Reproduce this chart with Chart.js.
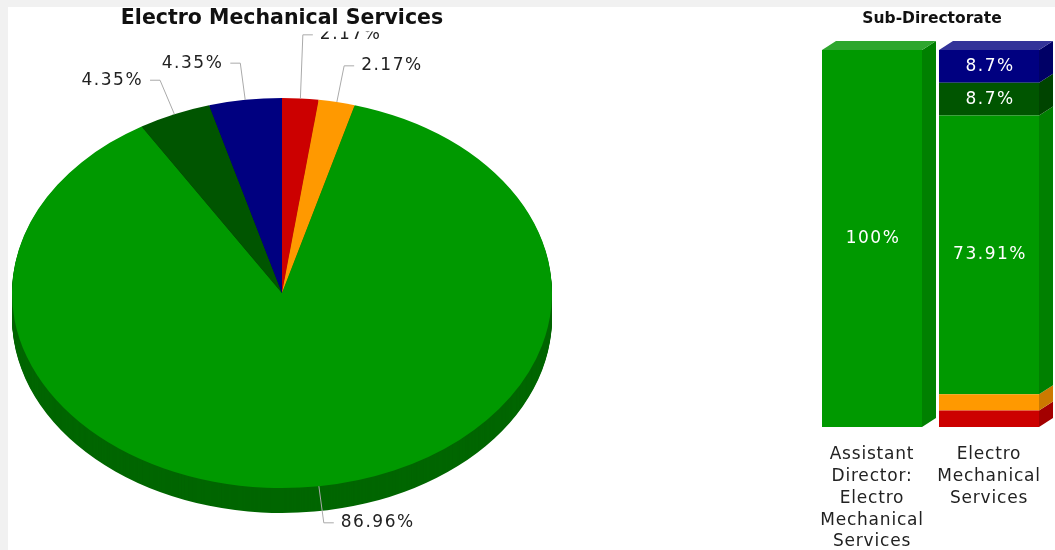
<!DOCTYPE html>
<html><head><meta charset="utf-8">
<script src="https://cdn.jsdelivr.net/npm/chart.js@4"></script>
<style>
html,body{margin:0;padding:0;width:1055px;height:550px;overflow:hidden;background:#f1f1f1;}
#panel{position:absolute;left:8px;top:7px;right:0;bottom:0;background:#fff;}
#pieWrap{position:absolute;left:0;top:0;width:564px;height:600px;}
#barWrap{position:absolute;left:800px;top:0;width:255px;height:550px;}
</style></head><body>
<div id="panel"></div>
<div id="pieWrap"><canvas id="pie"></canvas></div>
<div id="barWrap"><canvas id="bar"></canvas></div>
<script>
// ---------- data ----------
const pieTitle = "Electro Mechanical Services";
const pieCategories = ["Red", "Orange", "Green", "Dark Green", "Blue"];
const pieValues = [2.17, 2.17, 86.96, 4.35, 4.35];

const barTitle = "Sub-Directorate";
const barCategories = ["Assistant Director: Electro Mechanical Services", "Electro Mechanical Services"];
const barRed = [0, 4.35];
const barOrange = [0, 4.35];
const barGreen = [100, 73.91];
const barDarkGreen = [0, 8.7];
const barBlue = [0, 8.7];

// ---------- styles ----------
const FONT = '"DejaVu Sans", Verdana, sans-serif';
const frontColors = ['#CC0000', '#FF9900', '#009900', '#005500', '#000080'];
const pieSideColors = ['#8A0000', '#B36B00', '#006600', '#003A00', '#000055'];
const barSideColors = ['#A30000', '#CC7A00', '#008000', '#004400', '#000066'];
const barTopColors = ['#D93333', '#FFAD33', '#2EA62E', '#337733', '#333399'];

const SY = 195 / 270, DEPTH = 25;

const pie3d = {
  id: 'pie3d',
  beforeDatasetsDraw(chart) {
    const ctx = chart.ctx, meta = chart.getDatasetMeta(0);
    const cx = meta.data[0].x, cy = meta.data[0].y;
    for (let d = DEPTH; d > 0; d--) {
      meta.data.forEach((arc, i) => {
        ctx.save();
        ctx.translate(cx, cy + d);
        ctx.scale(1, SY);
        ctx.beginPath();
        ctx.moveTo(0, 0);
        ctx.arc(0, 0, arc.outerRadius, arc.startAngle, arc.endAngle);
        ctx.closePath();
        ctx.fillStyle = pieSideColors[i];
        ctx.fill();
        ctx.restore();
      });
    }
    ctx.save();
    ctx.translate(cx, cy);
    ctx.scale(1, SY);
    ctx.translate(-cx, -cy);
  },
  afterDatasetsDraw(chart) {
    chart.ctx.restore();
  },
  afterDraw(chart) {
    const ctx = chart.ctx, meta = chart.getDatasetMeta(0);
    const cx = meta.data[0].x, cy = meta.data[0].y;
    const rx = meta.data[0].outerRadius, ry = rx * SY;
    ctx.save();
    ctx.font = '17px ' + FONT;
    ctx.letterSpacing = '1.5px';
    const items = meta.data.map((arc, i) => {
      const mid = (arc.startAngle + arc.endAngle) / 2;
      const c = Math.cos(mid), s = Math.sin(mid);
      const text = pieValues[i] + '%';
      const w = ctx.measureText(text).width;
      const right = c >= 0;
      const it = {i, text, w, right,
        sx: cx + rx * c, sy: cy + ry * s,
        ex: cx + (rx + 36) * c, ey: cy + (ry + 37) * s};
      return it;
    });
    const box = it => it.right ? [it.ex + 17, it.ex + 17 + it.w] : [it.ex - 17 - it.w, it.ex - 17];
    [true, false].forEach(side => {
      const list = items.filter(it => it.right === side).sort((a, b) => b.ey - a.ey);
      for (let k = 1; k < list.length; k++) {
        const a = list[k], b = list[k - 1];
        const ba = box(a), bb = box(b);
        if (ba[0] < bb[1] && bb[0] < ba[1] && b.ey - a.ey < 31) a.ey = b.ey - 31;
      }
    });
    items.forEach(it => {
      ctx.strokeStyle = '#aaaaaa';
      ctx.lineWidth = 1;
      ctx.beginPath();
      ctx.moveTo(it.sx, it.sy);
      ctx.lineTo(it.ex, it.ey);
      ctx.lineTo(it.ex + (it.right ? 10 : -10), it.ey);
      ctx.stroke();
      ctx.fillStyle = '#222222';
      ctx.textBaseline = 'middle';
      ctx.textAlign = 'left';
      const x0 = box(it)[0];
      ctx.fillText(it.text, x0, it.ey);
    });
    // title
    ctx.letterSpacing = '0px';
    ctx.fillStyle = '#ffffff';
    ctx.fillRect(108, 7, 350, 24.5);
    ctx.font = 'bold 20.5px ' + FONT;
    ctx.fillStyle = '#111111';
    ctx.textAlign = 'center';
    ctx.textBaseline = 'middle';
    ctx.fillText(pieTitle, cx, 19);
    ctx.restore();
  }
};

new Chart(document.getElementById('pie'), {
  type: 'pie',
  data: {labels: pieCategories, datasets: [{data: pieValues, backgroundColor: frontColors, borderWidth: 0, hoverOffset: 0, offset: 0, clip: false}]},
  options: {
    responsive: true, maintainAspectRatio: false, animation: false, events: [],
    layout: {padding: {left: 12, right: 12, top: 23, bottom: 37}},
    plugins: {legend: {display: false}, tooltip: {enabled: false}, title: {display: false}}
  },
  plugins: [pie3d]
});

// ---------- bar ----------
const DX = 14, DY = 9;
function wrapText(ctx, text, maxW) {
  const words = text.split(' ');
  const lines = [];
  let cur = '';
  words.forEach(w => {
    const t = cur ? cur + ' ' + w : w;
    if (cur && ctx.measureText(t).width > maxW) { lines.push(cur); cur = w; }
    else cur = t;
  });
  if (cur) lines.push(cur);
  return lines;
}
const bar3d = {
  id: 'bar3d',
  afterDatasetsDraw(chart) {
    const ctx = chart.ctx;
    const dss = chart.data.datasets;
    ctx.save();
    chart.data.labels.forEach((_, j) => {
      let topIdx = -1;
      dss.forEach((ds, i) => { if (ds.data[j] > 0) topIdx = i; });
      dss.forEach((ds, i) => {
        if (!(ds.data[j] > 0)) return;
        const el = chart.getDatasetMeta(i).data[j];
        const l = el.x - el.width / 2, r = el.x + el.width / 2, t = el.y, b = el.base;
        ctx.fillStyle = barSideColors[i];
        ctx.beginPath();
        ctx.moveTo(r, t); ctx.lineTo(r + DX, t - DY); ctx.lineTo(r + DX, b - DY); ctx.lineTo(r, b);
        ctx.closePath(); ctx.fill();
        if (i === topIdx) {
          ctx.fillStyle = barTopColors[i];
          ctx.beginPath();
          ctx.moveTo(l, t); ctx.lineTo(l + DX, t - DY); ctx.lineTo(r + DX, t - DY); ctx.lineTo(r, t);
          ctx.closePath(); ctx.fill();
        }
      });
    });
    // values
    ctx.font = '17px ' + FONT;
    ctx.letterSpacing = '1.5px';
    ctx.fillStyle = '#ffffff';
    ctx.textAlign = 'center';
    ctx.textBaseline = 'middle';
    dss.forEach((ds, i) => {
      chart.getDatasetMeta(i).data.forEach((el, j) => {
        const h = el.base - el.y;
        if (ds.data[j] > 0 && h > 24) ctx.fillText(ds.data[j] + '%', el.x + 1, (el.y + el.base) / 2);
      });
    });
    ctx.restore();
  },
  afterDraw(chart) {
    const ctx = chart.ctx;
    ctx.save();
    ctx.font = '17px ' + FONT;
    ctx.letterSpacing = '0.8px';
    ctx.fillStyle = '#222222';
    ctx.textAlign = 'center';
    ctx.textBaseline = 'middle';
    const xs = chart.scales.x;
    chart.data.labels.forEach((lab, j) => {
      const x = xs.getPixelForValue(j);
      wrapText(ctx, lab, 112).forEach((ln, k) => ctx.fillText(ln, x, 455 + k * 21.7));
    });
    ctx.letterSpacing = '0px';
    ctx.font = 'bold 15.5px ' + FONT;
    ctx.fillStyle = '#111111';
    ctx.fillText(barTitle, 132, 19);
    ctx.restore();
  }
};

const barSeries = [barRed, barOrange, barGreen, barDarkGreen, barBlue];
new Chart(document.getElementById('bar'), {
  type: 'bar',
  data: {
    labels: barCategories,
    datasets: barSeries.map((d, i) => ({label: pieCategories[i], data: d, backgroundColor: frontColors[i], borderWidth: 0,
      categoryPercentage: 1, barPercentage: 100 / 117}))
  },
  options: {
    responsive: true, maintainAspectRatio: false, animation: false, events: [],
    layout: {padding: {left: 13.5, right: 7.5, top: 50, bottom: 123}},
    scales: {
      x: {stacked: true, display: false},
      y: {stacked: true, display: false, min: 0, max: 100}
    },
    plugins: {legend: {display: false}, tooltip: {enabled: false}, title: {display: false}}
  },
  plugins: [bar3d]
});
</script>
</body></html>
